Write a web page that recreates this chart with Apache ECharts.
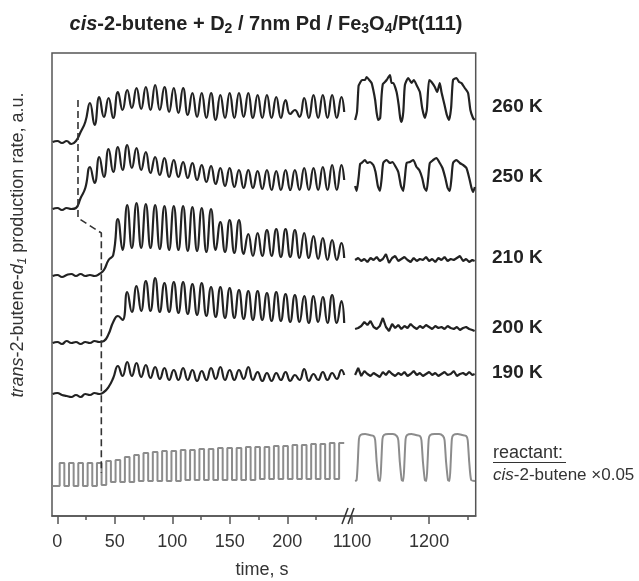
<!DOCTYPE html>
<html><head><meta charset="utf-8">
<script src="https://cdn.jsdelivr.net/npm/echarts@6/dist/echarts.min.js"></script>
<style>html,body{margin:0;padding:0;background:#fff}#c{width:639px;height:581px}</style>
</head><body><div id="c"></div>
<script>
// ---------- DATA (time in s, signal in a.u.) ----------
const tLeft = [-4.0, 0.05, 4.1, 8.15, 12.2, 16.25, 20.3, 24.35, 28.4, 32.45, 36.5, 40.55, 44.6, 48.65, 52.7, 56.75, 60.8, 64.85, 68.9, 72.95, 77.0, 81.05, 85.1, 89.15, 93.2, 97.25, 101.3, 105.35, 109.4, 113.45, 117.5, 121.55, 125.6, 129.65, 133.7, 137.75, 141.8, 145.85, 149.9, 153.95, 158.0, 162.05, 166.1, 170.15, 174.2, 178.25, 182.3, 186.35, 190.4, 194.45, 198.5, 202.55, 206.6, 210.65, 214.7, 218.75, 222.8, 226.85, 230.9, 234.95, 239.0, 243.05, 247.1, 249.5];

const v260L = [374, 375, 373, 375, 372, 375, 384, 394, 413, 391, 419, 399, 418, 398, 424, 406, 426, 408, 428, 407, 429, 406, 431, 406, 429, 404, 428, 403, 428, 401, 423, 399, 423, 398, 423, 396, 421, 398, 423, 398, 423, 399, 423, 398, 421, 398, 421, 398, 419, 398, 416, 402, 406, 399, 418, 398, 421, 398, 421, 398, 421, 398, 419, 404];
const v250L = [307, 308, 306, 308, 307, 308, 318, 328, 349, 333, 359, 339, 367, 344, 369, 346, 371, 348, 368, 346, 364, 343, 359, 341, 358, 339, 356, 339, 354, 338, 353, 336, 351, 334, 350, 332, 348, 330, 348, 329, 346, 328, 346, 328, 345, 327, 346, 326, 345, 326, 346, 326, 346, 326, 348, 326, 348, 326, 349, 326, 351, 326, 351, 336];
const v210L = [240, 241, 239, 241, 242, 240, 242, 240, 241, 240, 242, 246, 256, 261, 297, 266, 311, 268, 313, 268, 312, 268, 311, 267, 310, 266, 310, 266, 310, 265, 309, 265, 308, 264, 307, 266, 294, 264, 296, 263, 296, 262, 282, 260, 283, 260, 286, 260, 287, 259, 287, 259, 286, 258, 283, 258, 280, 257, 278, 256, 276, 256, 273, 258];
const v200L = [173, 174, 172, 175, 173, 174, 172, 174, 173, 175, 174, 175, 182, 194, 200, 196, 224, 204, 230, 205, 235, 205, 238, 204, 233, 204, 234, 203, 234, 202, 232, 201, 233, 200, 229, 199, 229, 198, 228, 198, 226, 197, 225, 196, 225, 196, 223, 195, 224, 195, 222, 194, 221, 194, 220, 193, 220, 194, 219, 193, 221, 193, 215, 193];
const v190L = [122, 123, 121, 120, 119, 121, 119, 122, 121, 123, 122, 124, 129, 138, 150, 140, 154, 140, 153, 139, 151, 138, 149, 137, 148, 136, 146, 136, 148, 136, 146, 135, 145, 136, 148, 137, 149, 136, 146, 136, 146, 137, 149, 136, 144, 135, 143, 135, 143, 136, 144, 135, 141, 136, 147, 135, 142, 136, 144, 136, 143, 137, 146, 141];
const vReactL = [30, 30, 53, 30, 53, 30, 53, 30, 53, 30, 53, 31, 55, 34, 56, 34, 59, 34, 61, 35, 63, 35, 64, 35, 65, 35, 65, 35, 66, 36, 66, 36, 67, 36, 67, 36, 68, 36, 68, 36, 68, 36, 69, 36, 69, 37, 69, 37, 70, 37, 70, 37, 71, 37, 71, 37, 72, 37, 72, 37, 73, 37, 73, 73];

const t260R = [1104, 1106.5, 1108.5, 1110.3, 1113, 1116.8, 1119, 1122.4, 1125.4, 1127.6, 1130, 1132, 1134, 1136.5, 1138.4, 1140, 1142.7, 1144.9, 1149.2, 1151.3, 1153.4, 1157.8, 1160.5, 1162.5, 1164.3, 1166.5, 1168.6, 1172.9, 1177.2, 1180.2, 1183.7, 1188, 1191, 1194.4, 1197, 1200, 1203.1, 1207.4, 1210.4, 1213.8, 1216, 1220, 1223, 1225.9, 1228.5, 1231, 1235.4, 1238.8, 1241.9, 1246.2, 1250.5, 1253.5, 1256.9, 1259.1];
const v260R = [396, 404, 430, 433, 436, 436, 439, 436, 433, 426, 416, 403, 396, 398, 421, 432, 434, 436, 441, 433, 433, 424, 411, 398, 394, 404, 431, 438, 433, 436, 431, 424, 408, 398, 406, 436, 434, 429, 424, 433, 424, 411, 401, 396, 408, 436, 438, 434, 433, 428, 423, 406, 398, 396];

const t250R = [1104, 1106, 1108.5, 1110.5, 1112.5, 1116.8, 1119.8, 1123.3, 1127.6, 1130.5, 1133.5, 1136.2, 1138.5, 1140.5, 1144.9, 1149.2, 1152.4, 1156.8, 1160, 1163.5, 1166.4, 1168.5, 1170.8, 1175, 1179.4, 1183.7, 1187.2, 1191, 1194, 1196.6, 1198.8, 1200.9, 1205.2, 1209.5, 1213.8, 1217.3, 1221, 1224, 1226.8, 1229, 1231, 1235.4, 1239.7, 1244.1, 1248.4, 1252, 1255, 1257, 1259.3];
const v250R = [330, 325, 338, 352, 353, 356, 353, 354, 351, 344, 330, 325, 338, 353, 356, 353, 354, 349, 344, 330, 325, 338, 353, 354, 356, 349, 346, 338, 328, 325, 338, 353, 356, 358, 353, 348, 338, 328, 325, 338, 353, 356, 353, 351, 348, 338, 328, 324, 329];

const tNoiseR = [1104, 1108, 1112, 1116, 1120, 1124, 1128, 1132, 1136, 1140, 1144, 1148, 1152, 1156, 1160, 1164, 1168, 1172, 1176, 1180, 1184, 1188, 1192, 1196, 1200, 1204, 1208, 1212, 1216, 1220, 1224, 1228, 1232, 1236, 1240, 1244, 1248, 1252, 1256, 1259];
const v210R = [256, 258, 255, 257, 254, 258, 256, 259, 255, 257, 262, 253, 258, 260, 255, 257, 259, 256, 254, 258, 255, 257, 256, 259, 255, 257, 254, 258, 256, 259, 255, 257, 256, 258, 260, 255, 257, 254, 256, 255];
const v200R = [187, 188, 190, 194, 191, 195, 189, 187, 190, 198, 189, 185, 192, 188, 191, 187, 190, 188, 192, 189, 187, 190, 188, 191, 189, 187, 190, 188, 189, 187, 190, 188, 187, 189, 186, 188, 189, 187, 186, 185];
const v190R = [141, 148, 140, 145, 142, 140, 143, 141, 139, 144, 141, 145, 142, 140, 143, 141, 144, 140, 142, 145, 141, 143, 140, 142, 144, 141, 143, 140, 142, 144, 141, 142, 145, 140, 142, 143, 141, 144, 141, 142];

const tReactR = [1104, 1106, 1107.5, 1109, 1111, 1117, 1123, 1128, 1130, 1132, 1134.5, 1136.5, 1138, 1139.5, 1141.5, 1147, 1153, 1158, 1160, 1162, 1164.5, 1166.5, 1168, 1169.5, 1171.5, 1177, 1183, 1188, 1190, 1192, 1194.5, 1196.5, 1198, 1199.5, 1201.5, 1207, 1213, 1218, 1220, 1222, 1224.5, 1226.5, 1228, 1229.5, 1231.5, 1237, 1243, 1248, 1250, 1252, 1254.5, 1259.5];
const vReactR = [35, 36, 54, 77, 81, 82, 81, 80, 76, 54, 36, 35, 54, 77, 81, 82, 82, 80, 76, 54, 36, 35, 54, 77, 81, 82, 81, 80, 76, 54, 36, 35, 54, 77, 81, 82, 82, 80, 76, 54, 36, 35, 54, 77, 81, 82, 81, 80, 76, 54, 36, 35];

// onset marker (dashed guide)
const dashT = [18, 18, 38.3, 38.3];
const dashV = [416, 298, 283, 43];

const majorTicksL = [0, 50, 100, 150, 200];
const minorTicksL = [25, 75, 125, 175, 225];
const majorTicksR = [1100, 1200];
const minorTicksR = [1150, 1250];
const tempLabels = ['260 K', '250 K', '210 K', '200 K', '190 K'];

// ---------- CHART ----------
const FONT = '"Liberation Sans", Arial, sans-serif';
const AX = '#555';
const INK = '#222';
const GREY = '#8c8c8c';
const mk = (t, v) => t.map((x, i) => [x, v[i]]);

const chart = echarts.init(document.getElementById('c'));

const GL = {left: 52, top: 53, width: 296, height: 463};
const GR = {left: 348, top: 53, width: 127.7, height: 463};

function xAx(grid, min, max, ticks, len, labels) {
  return {
    type: 'value', gridIndex: grid, min: min, max: max, position: 'bottom',
    axisLine: {show: labels, lineStyle: {color: AX, width: 1.5}},
    axisTick: {show: true, customValues: ticks, length: len, lineStyle: {color: AX, width: 1.5}},
    axisLabel: {show: labels, customValues: ticks, fontSize: 18, fontFamily: FONT, color: '#333', margin: 17,
                formatter: (v) => String(v)},
    splitLine: {show: false}
  };
}

const prod = (xi, yi, t, v, smooth) => ({
  type: 'line', xAxisIndex: xi, yAxisIndex: yi, data: mk(t, v), smooth: smooth,
  symbol: 'none', lineStyle: {color: INK, width: 2.2}, silent: true
});

const option = {
  animation: false,
  grid: [
    Object.assign({containLabel: false}, GL),
    Object.assign({containLabel: false}, GR)
  ],
  xAxis: [
    xAx(0, -4.6, 252.8, majorTicksL, 8, true),
    xAx(0, -4.6, 252.8, minorTicksL, 4, false),
    xAx(1, 1094.8, 1260.4, majorTicksR, 8, true),
    xAx(1, 1094.8, 1260.4, minorTicksR, 4, false)
  ],
  yAxis: [
    {type: 'value', gridIndex: 0, min: 0, max: 463, show: false},
    {type: 'value', gridIndex: 1, min: 0, max: 463, show: false}
  ],
  series: [
    prod(0, 0, tLeft, v260L, 0.5),
    prod(0, 0, tLeft, v250L, 0.5),
    prod(0, 0, tLeft, v210L, 0.5),
    prod(0, 0, tLeft, v200L, 0.5),
    prod(0, 0, tLeft, v190L, 0.5),
    {type: 'line', xAxisIndex: 0, yAxisIndex: 0, data: mk(tLeft, vReactL), step: 'middle',
     symbol: 'none', lineStyle: {color: GREY, width: 2}, silent: true},
    {type: 'line', xAxisIndex: 0, yAxisIndex: 0, data: mk(dashT, dashV),
     symbol: 'none', lineStyle: {color: '#333', width: 1.6, type: [7, 4]}, silent: true},
    prod(2, 1, t260R, v260R, 0.2),
    prod(2, 1, t250R, v250R, 0.2),
    prod(2, 1, tNoiseR, v210R, 0),
    prod(2, 1, tNoiseR, v200R, 0),
    prod(2, 1, tNoiseR, v190R, 0),
    {type: 'line', xAxisIndex: 2, yAxisIndex: 1, data: mk(tReactR, vReactR), smooth: 0.2,
     symbol: 'none', lineStyle: {color: GREY, width: 2}, silent: true}
  ],
  graphic: []
};

const labelY = [106.7, 176.7, 257.3, 327.3, 373];
const g = [];
// frame
g.push({type: 'rect', shape: {x: GL.left, y: GL.top, width: GL.width + GR.width, height: GL.height},
  style: {fill: 'none', stroke: AX, lineWidth: 1.5}, z: 1, silent: true});
// axis break marks
g.push({type: 'line', shape: {x1: 342, y1: 524, x2: 348, y2: 508}, style: {stroke: '#333', lineWidth: 1.5}, z: 10});
g.push({type: 'line', shape: {x1: 348, y1: 524, x2: 354, y2: 508}, style: {stroke: '#333', lineWidth: 1.5}, z: 10});
// temperature labels
tempLabels.forEach((s, i) => g.push({type: 'text', x: 492, y: labelY[i],
  style: {text: s, fontSize: 19, fontWeight: 'bold', fontFamily: FONT, fill: INK, align: 'left', verticalAlign: 'middle'}}));
// reactant label
g.push({type: 'text', x: 493, y: 452.7,
  style: {text: 'reactant:', fontSize: 18, fontFamily: FONT, fill: '#333', align: 'left', verticalAlign: 'middle'}});
g.push({type: 'line', shape: {x1: 493, y1: 462.5, x2: 566, y2: 462.5}, style: {stroke: '#333', lineWidth: 1.2}});
const base = (extra) => Object.assign({fontFamily: FONT, fill: '#333'}, extra);
g.push({type: 'text', x: 493, y: 475,
  style: {text: '{i|cis}{n|-2-butene ×0.05}', fontSize: 17, fontFamily: FONT, fill: '#333', align: 'left', verticalAlign: 'middle',
    rich: {i: base({fontSize: 17, fontStyle: 'italic', fontWeight: 'normal'}), n: base({fontSize: 17, fontStyle: 'normal', fontWeight: 'normal'})}}});
// title
const tb = (extra) => Object.assign({fontFamily: FONT, fill: INK, fontWeight: 'bold', fontSize: 20, lineHeight: 24}, extra);
g.push({type: 'text', x: 266, y: 24,
  style: {text: '{bi|cis}{b|-2-butene + D}{s|2}{b| / 7nm Pd / Fe}{s|3}{b|O}{s|4}{b|/Pt(111)}',
    fontSize: 20, fontWeight: 'bold', fontFamily: FONT, fill: INK, align: 'center', verticalAlign: 'middle',
    rich: {b: tb({fontStyle: 'normal'}), bi: tb({fontStyle: 'italic'}),
           s: tb({fontStyle: 'normal', fontSize: 14, lineHeight: 14, padding: [11, 0, 0, 0]})}}});
// y-axis name
const ty = (extra) => Object.assign({fontFamily: FONT, fill: '#333', fontWeight: 'normal', fontSize: 18, lineHeight: 22}, extra);
g.push({type: 'text', x: 18, y: 245, rotation: Math.PI / 2,
  style: {text: '{i|trans}{n|-2-butene-}{i|d}{si|1}{n| production rate, a.u.}',
    fontSize: 18, fontFamily: FONT, fill: '#333', align: 'center', verticalAlign: 'middle',
    rich: {n: ty({fontStyle: 'normal'}), i: ty({fontStyle: 'italic'}),
           si: ty({fontStyle: 'italic', fontSize: 12, lineHeight: 12, padding: [10, 0, 0, 0]})}}});
// x-axis name
g.push({type: 'text', x: 262, y: 570,
  style: {text: 'time, s', fontSize: 18, fontFamily: FONT, fill: '#333', align: 'center', verticalAlign: 'middle'}});
option.graphic = g;
chart.setOption(option);
</script>
</body></html>
